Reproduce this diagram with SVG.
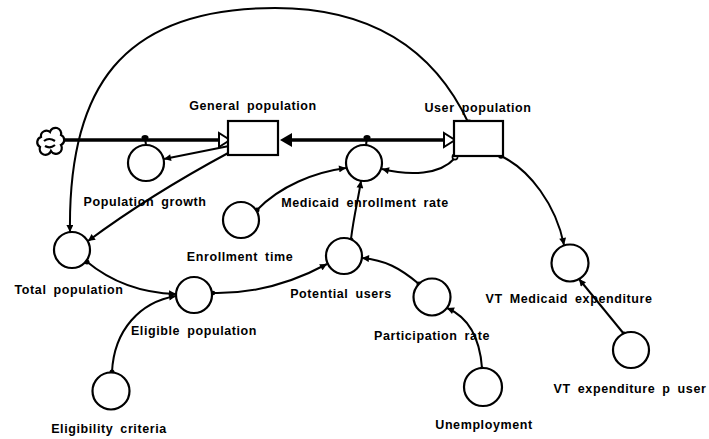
<svg xmlns="http://www.w3.org/2000/svg" width="709" height="439" viewBox="0 0 709 439">
<style>
  .lbl { font-family: "Liberation Sans", Arial, sans-serif; font-weight: bold; font-size: 12.5px; letter-spacing: 0.6px; word-spacing: 3px; fill: #000; text-anchor: middle; }
  .aux { fill: #fff; stroke: #000; stroke-width: 2.2; }
  .stock { fill: #fff; stroke: #000; stroke-width: 2.2; }
  .link { fill: none; stroke: #000; stroke-width: 2; marker-end: url(#ah); }
  .pipe { fill: none; stroke: #000; stroke-width: 3.5; }
  .dot { fill: #000; }
  .odot { fill: #fff; stroke: #000; stroke-width: 1.6; }
</style>
<defs>
  <marker id="ah" viewBox="0 0 10 10" refX="10" refY="5" markerWidth="8" markerHeight="7" markerUnits="userSpaceOnUse" orient="auto">
    <path d="M0,0 L10,5 L0,10 z" fill="#000"/>
  </marker>
</defs>
<rect width="709" height="439" fill="#fff"/>

<g id="connectors">
  <!-- flows -->
  <line class="pipe" x1="62" y1="140" x2="220" y2="140"/>
  <line class="pipe" x1="290" y1="140" x2="445" y2="140"/>
  <polygon points="219,133 219,147 230,140" fill="#fff" stroke="#000" stroke-width="2"/>
  <polygon points="280,140 292,133 292,147" fill="#000"/>
  <polygon points="444,133 444,147 455,140" fill="#fff" stroke="#000" stroke-width="2"/>
  <!-- valves -->
  <line x1="145" y1="138" x2="146" y2="145" stroke="#000" stroke-width="2"/>
  <ellipse class="dot" cx="145" cy="137.5" rx="3.5" ry="2.5"/>
  <line x1="367" y1="138" x2="366" y2="145" stroke="#000" stroke-width="2"/>
  <ellipse class="dot" cx="367" cy="137.5" rx="3.5" ry="2.5"/>
  <!-- influence links -->
  <path class="link" d="M229,146 L164,159"/>
  <path class="link" d="M230,152 Q150,195 88,241"/>
  <path class="link" d="M469,124 C430,40 360,8 275,8 C120,8 68,90 70,232"/>
  <path class="link" d="M455,158 C440,175 410,176 382,169"/>
  <path class="link" d="M257,210 C280,186 315,172 346,168"/>
  <path class="link" d="M351,239 C354,215 358,200 361,181"/>
  <path class="link" d="M212,293 C250,294 290,284 327,264"/>
  <path class="link" d="M86,261 C110,281 140,293 176,294"/>
  <path class="link" d="M112,372 C114,330 140,302 176,296"/>
  <path class="link" d="M419,284 C400,268 385,260 362,258"/>
  <path class="link" d="M482,368 C480,340 470,318 447,308"/>
  <path class="link" d="M501,156 C530,170 556,205 564,245"/>
  <path class="link" d="M624,334 L579,279"/>
  <!-- origin dots -->
  <circle class="odot" cx="469" cy="123" r="2.6"/>
  <circle class="odot" cx="455" cy="157" r="2.6"/>
  <circle class="dot" cx="501" cy="156" r="2.8"/>
  <circle class="dot" cx="257" cy="210" r="2.5"/>
  <circle class="dot" cx="351" cy="240" r="2.5"/>
  <circle class="dot" cx="213" cy="293" r="2.3"/>
  <circle class="dot" cx="87" cy="262" r="2.5"/>
  <circle class="dot" cx="112" cy="372" r="2.5"/>
  <circle class="dot" cx="419" cy="284" r="2.5"/>
  <circle class="dot" cx="482" cy="369" r="2.5"/>
  <circle class="dot" cx="624" cy="334" r="2.5"/>
</g>

<g id="source-cloud">
  <path d="M41,137 a5.5,5.5 0 0 1 9,-5 a5.5,5.5 0 0 1 11,3 a5.5,5.5 0 0 1 0,10 a5.5,5.5 0 0 1 -10,6 a5.5,5.5 0 0 1 -11,-4 a5.5,5.5 0 0 1 1,-10 z M44,141 q5,-4 11,0 M45,146 q5,3 10,-1" fill="#fff" stroke="#000" stroke-width="2.2"/>
</g>

<g id="general-population">
  <rect class="stock" x="228" y="121" width="50" height="34"/>
  <text class="lbl" x="253" y="110">General population</text>
</g>
<g id="user-population">
  <rect class="stock" x="454" y="121" width="49" height="35"/>
  <text class="lbl" x="478" y="112">User population</text>
</g>
<g id="population-growth">
  <circle class="aux" cx="146" cy="163" r="18"/>
  <text class="lbl" x="145" y="206">Population growth</text>
</g>
<g id="medicaid-enrollment-rate">
  <circle class="aux" cx="364" cy="163" r="18"/>
  <text class="lbl" x="365" y="207">Medicaid enrollment rate</text>
</g>
<g id="enrollment-time">
  <circle class="aux" cx="241" cy="220" r="18"/>
  <text class="lbl" x="240" y="261">Enrollment time</text>
</g>
<g id="total-population">
  <circle class="aux" cx="72" cy="250" r="18"/>
  <text class="lbl" x="69" y="294">Total population</text>
</g>
<g id="potential-users">
  <circle class="aux" cx="344" cy="256" r="18"/>
  <text class="lbl" x="341" y="298">Potential users</text>
</g>
<g id="eligible-population">
  <circle class="aux" cx="194" cy="295" r="18"/>
  <text class="lbl" x="194" y="335">Eligible population</text>
</g>
<g id="participation-rate">
  <circle class="aux" cx="432" cy="297" r="18.5"/>
  <text class="lbl" x="432" y="340">Participation rate</text>
</g>
<g id="eligibility-criteria">
  <circle class="aux" cx="111" cy="391" r="18.5"/>
  <text class="lbl" x="109" y="433">Eligibility criteria</text>
</g>
<g id="unemployment">
  <circle class="aux" cx="483" cy="387" r="19"/>
  <text class="lbl" x="484" y="429">Unemployment</text>
</g>
<g id="vt-medicaid-expenditure">
  <circle class="aux" cx="570" cy="263" r="18.5"/>
  <text class="lbl" x="569" y="303">VT Medicaid expenditure</text>
</g>
<g id="vt-expenditure-p-user">
  <circle class="aux" cx="631" cy="350" r="18"/>
  <text class="lbl" x="630" y="393">VT expenditure p user</text>
</g>
</svg>
